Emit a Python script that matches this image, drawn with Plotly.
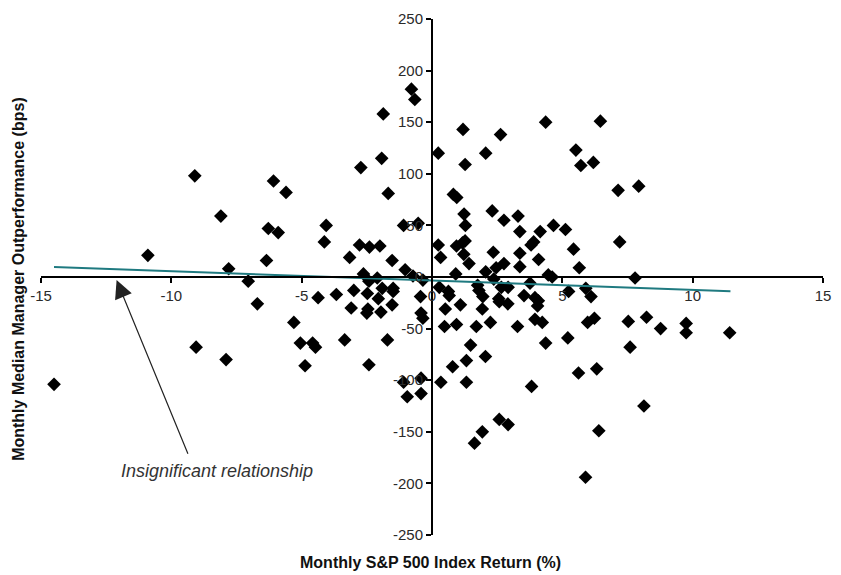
import plotly.graph_objects as go

# Monthly S&P 500 index return (%)
sp500_return = [
    -14.5, -10.9, -9.1, -9.05, -8.1, -7.9, -7.8, -7.05, -6.7, -6.35, -6.28, -6.08, -5.9, -5.6,
    -5.3, -5.05, -4.87, -4.58, -4.47, -4.37, -4.06, -4.13, -3.67, -3.35, -3.16, -3.1, -3.0,
    -2.78, -2.73, -2.63, -2.48, -2.46, -2.5, -2.42, -2.42, -2.4, -2.1, -2.06, -2.0, -1.96,
    -1.93, -1.91, -1.87, -1.71, -1.68, -1.53, -1.53, -1.49, -1.49, -1.09, -1.09, -1.03, -0.95,
    -0.79, -0.73, -0.66, -0.53, -0.44, -0.42, -0.42, -0.42, -0.35, -0.35,
    0.24, 0.24, 0.28, 0.33, 0.34, 0.48, 0.51, 0.63, 0.66, 0.79, 0.82, 0.91, 0.94, 0.94, 0.95,
    1.09, 1.17, 1.19, 1.22, 1.23, 1.27, 1.27, 1.28, 1.32, 1.32, 1.42, 1.48, 1.63, 1.70, 1.75,
    1.80, 1.93, 1.93, 1.95, 2.05, 2.06, 2.06, 2.24, 2.31, 2.35, 2.37, 2.46, 2.56, 2.58, 2.58,
    2.63, 2.66, 2.76, 2.76, 2.91, 2.92, 2.92, 3.28, 3.30, 3.37, 3.37, 3.37, 3.53, 3.76, 3.80,
    3.82, 3.90, 3.95, 3.95, 4.05, 4.08, 4.09, 4.15, 4.23, 4.36, 4.36, 4.46, 4.61, 4.66, 5.12,
    5.21, 5.24, 5.43, 5.52, 5.62, 5.65, 5.71, 5.89, 5.90, 5.97, 6.10, 6.19, 6.23, 6.32, 6.40,
    6.46, 7.14, 7.20, 7.53, 7.60, 7.79, 7.93, 8.13, 8.23, 8.77, 9.75, 9.75, 11.42,
]

# Monthly median manager outperformance (bps)
outperformance = [
    -104, 21, 98, -68, 59, -80, 8, -4, -26, 16, 47, 93, 43, 82,
    -44, -64, -86, -64, -68, -20, 50, 34, -17, -61, 19, -30, -13,
    31, 106, 3, -16, -31, -35, -4, -85, 29, -1, -21, 30, -34,
    115, -11, 158, -61, 81, 16, -27, -11, -14, 50, -102, 7, -116,
    182, 1, 172, 52, -19, -35, -98, -113, -3, -40,
    120, 31, -10, 19, -102, -48, -31, -14, -18, -87, 80, 3, 30, -46, 77,
    -27, 33, 143, 22, 61, 35, 109, 50, -81, -102, 13, -66, -161, -48, -8,
    -13, -31, -150, -19, -77, 120, 5, -44, 64, 24, -2, 9, -21, -24, -138,
    138, -10, 55, 13, -26, -10, -143, -48, 59, 44, 23, 10, -18, -6, 31,
    -106, 34, -20, -41, -28, -23, 17, 44, -44, 150, -64, 2, 0, 50, 46,
    -59, -14, 27, 123, -93, 9, 108, -194, -11, -44, -19, 111, -40, -89, -149,
    151, 84, 34, -43, -68, -1, 88, -125, -39, -50, -45, -54, -54,
]

# Linear trend line end points
trend_x = [-14.5, 11.45]
trend_y = [9.6, -13.8]

x_ticks = [-15, -10, -5, 0, 5, 10, 15]
y_ticks = [-250, -200, -150, -100, -50, 0, 50, 100, 150, 200, 250]

x_title = "Monthly S&P 500 Index Return (%)"
y_title = "Monthly Median Manager Outperformance (bps)"
note_text = "Insignificant relationship"
# arrow tip / tail and note position, in data units
arrow_tip = (-12.1, -3.0)
arrow_tail = (-9.34, -172.8)
note_pos = (-8.25, -188.2)

FONT = "Liberation Sans"

fig = go.Figure()
fig.add_trace(go.Scatter(
    x=sp500_return, y=outperformance, mode="markers",
    marker=dict(symbol="diamond", size=10.5, color="black", line=dict(width=0)),
    showlegend=False, hoverinfo="x+y",
))
fig.add_trace(go.Scatter(
    x=trend_x, y=trend_y, mode="lines",
    line=dict(color="#1F7A80", width=2), showlegend=False, hoverinfo="skip",
))

axis_common = dict(
    showgrid=False, zeroline=False, showline=True, linecolor="black", linewidth=2,
    ticks="outside", ticklen=5, tickwidth=2, tickcolor="black",
    tickfont=dict(family=FONT, size=15, color="#2a2a2a"),
    anchor="free", position=0.5,
)

fig.update_layout(
    width=841, height=575,
    margin=dict(l=41, r=10, t=17, b=40),
    paper_bgcolor="white", plot_bgcolor="white",
    xaxis=dict(range=[-15, 15], tickvals=x_ticks, ticktext=[str(v) for v in x_ticks],
               domain=[0, 1], **axis_common),
    yaxis=dict(range=[-250, 250], tickvals=y_ticks, ticktext=[str(v) for v in y_ticks],
               domain=[0, 1], **axis_common),
    annotations=[
        dict(text="<b>" + x_title + "</b>", xref="paper", yref="paper",
             x=0.4987, y=-0.054, xanchor="center", yanchor="middle", showarrow=False,
             font=dict(family=FONT, size=16, color="#111111")),
        dict(text="<b>" + y_title + "</b>", xref="paper", yref="paper",
             x=-0.029, y=0.497, xanchor="center", yanchor="middle", showarrow=False,
             textangle=-90, font=dict(family=FONT, size=16, color="#111111")),
        dict(text="<i>" + note_text + "</i>", xref="x", yref="y",
             x=note_pos[0], y=note_pos[1], xanchor="center", yanchor="middle",
             showarrow=False, font=dict(family=FONT, size=18, color="#333333")),
        dict(text="", xref="x", yref="y", axref="x", ayref="y",
             x=arrow_tip[0], y=arrow_tip[1], ax=arrow_tail[0], ay=arrow_tail[1],
             showarrow=True, arrowhead=2, arrowsize=3, arrowwidth=1.2,
             arrowcolor="#222222"),
    ],
)

fig.write_html("out.html")
